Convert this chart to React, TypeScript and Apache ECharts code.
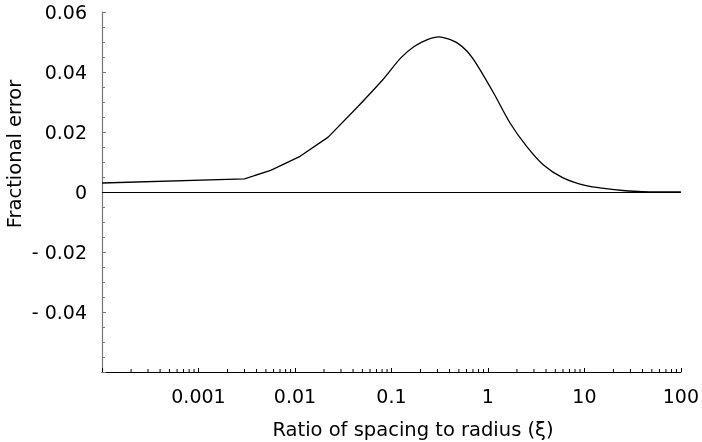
import React, { useEffect, useRef } from 'react';
import * as echarts from 'echarts';

// Ratio of spacing to radius (xi) — low range, drawn as straight segments
const xiLow = [0.0001, 0.003, 0.0056, 0.0113, 0.0221, 0.045];
const errLow = [0.003, 0.0044, 0.0072, 0.0119, 0.0183, 0.0285];
// Ratio of spacing to radius (xi) — upper range, drawn as a smooth curve
const xiHigh = [0.045, 0.0813, 0.125, 0.172, 0.236, 0.311, 0.379, 0.48, 0.608, 0.771, 1.146, 1.696, 2.52, 3.74, 6.01, 10.4, 16.7, 25, 40, 100];
const errHigh = [0.0285, 0.0374, 0.0447, 0.0485, 0.0508, 0.0517, 0.0511, 0.0497, 0.0469, 0.0424, 0.033, 0.023, 0.0152, 0.0091, 0.0047, 0.0021, 0.0011, 0.0005, 0.0001, 0];

const xDecades = [0.0001, 0.001, 0.01, 0.1, 1, 10, 100];
const xTickLabels = ['', '0.001', '0.01', '0.1', '1', '10', '100'];
const yTickValues = [-0.06, -0.04, -0.02, 0, 0.02, 0.04, 0.06];
const yTickLabels = ['', '- 0.04', '- 0.02', '0', '0.02', '0.04', '0.06'];
const minorMultipliers = [2, 3, 4, 5, 6, 7, 8, 9];

const FONT = 'DejaVu Sans';

export default function App() {
  const ref = useRef<HTMLDivElement>(null);
  useEffect(() => {
    if (!ref.current) return;
    const chart = echarts.init(ref.current, null, { renderer: 'svg' });
    const minorX: number[][] = [];
    for (let i = 0; i < xDecades.length - 1; i++) {
      for (const m of minorMultipliers) minorX.push([xDecades[i] * m, -0.06]);
    }
    chart.setOption({
      animation: false,
      textStyle: { fontFamily: FONT },
      grid: { left: 102, right: 17, top: 12, bottom: 70, containLabel: false },
      xAxis: {
        type: 'log',
        logBase: 10,
        min: 0.0001,
        max: 100,
        splitNumber: 6,
        axisLine: { show: true, onZero: false, lineStyle: { color: '#000', width: 1.2 } },
        axisTick: { show: true, inside: true, length: 4, lineStyle: { color: '#000', width: 1 } },
        minorTick: { show: false },
        splitLine: { show: false },
        axisLabel: {
          margin: 14,
          fontSize: 19,
          fontFamily: FONT,
          color: '#000',
          showMinLabel: true,
          showMaxLabel: true,
          formatter: (v: number) => {
            const e = Math.round(Math.log10(v));
            return xTickLabels[e + 4] ?? '';
          },
        },
      },
      yAxis: {
        type: 'value',
        min: -0.06,
        max: 0.06,
        interval: 0.02,
        axisLine: { show: true, onZero: false, lineStyle: { color: '#777', width: 1.2 } },
        axisTick: { show: true, inside: true, length: 4, lineStyle: { color: '#777', width: 1 } },
        minorTick: { show: true, splitNumber: 4, length: 3, lineStyle: { color: '#777', width: 1 } },
        splitLine: { show: false },
        minorSplitLine: { show: false },
        axisLabel: {
          margin: 15,
          fontSize: 19,
          fontFamily: FONT,
          color: '#000',
          padding: [8, 0, 0, 0],
          formatter: (v: number) => {
            const r = Math.round(v * 100) / 100;
            const idx = yTickValues.findIndex((t) => Math.abs(t - r) < 1e-9);
            return idx >= 0 ? yTickLabels[idx] : '';
          },
        },
      },
      graphic: [
        {
          type: 'text',
          x: 413,
          y: 429,
          style: {
            text: 'Ratio of spacing to radius (ξ)',
            fontFamily: FONT,
            fontSize: 19.5,
            fill: '#000',
            textAlign: 'center',
            textVerticalAlign: 'middle',
          },
        },
        {
          type: 'text',
          x: 14,
          y: 154,
          rotation: Math.PI / 2,
          style: {
            text: 'Fractional error',
            fontFamily: FONT,
            fontSize: 19.5,
            fill: '#000',
            textAlign: 'center',
            textVerticalAlign: 'middle',
          },
        },
      ],
      series: [
        {
          type: 'line',
          data: xiLow.map((x, i) => [x, errLow[i]]),
          showSymbol: false,
          symbol: 'none',
          smooth: false,
          lineStyle: { color: '#000', width: 1.3 },
          silent: true,
          markLine: {
            silent: true,
            symbol: ['none', 'none'],
            label: { show: false },
            lineStyle: { color: '#000', width: 1.2, type: 'solid' },
            data: [{ yAxis: 0 }],
          },
        },
        {
          type: 'line',
          data: xiHigh.map((x, i) => [x, errHigh[i]]),
          showSymbol: false,
          symbol: 'none',
          smooth: 0.3,
          lineStyle: { color: '#000', width: 1.3 },
          silent: true,
        },
        {
          type: 'custom',
          silent: true,
          clip: false,
          data: minorX,
          renderItem: (params: any, api: any) => {
            const p = api.coord([api.value(0), api.value(1)]);
            return {
              type: 'line',
              shape: { x1: p[0], y1: p[1], x2: p[0], y2: p[1] - 3 },
              style: { stroke: '#000', lineWidth: 1 },
            };
          },
        },
      ],
    });
    return () => chart.dispose();
  }, []);
  return (
    <div
      ref={ref}
      style={{ position: 'fixed', left: 0, top: 0, width: 702, height: 442 }}
    />
  );
}
